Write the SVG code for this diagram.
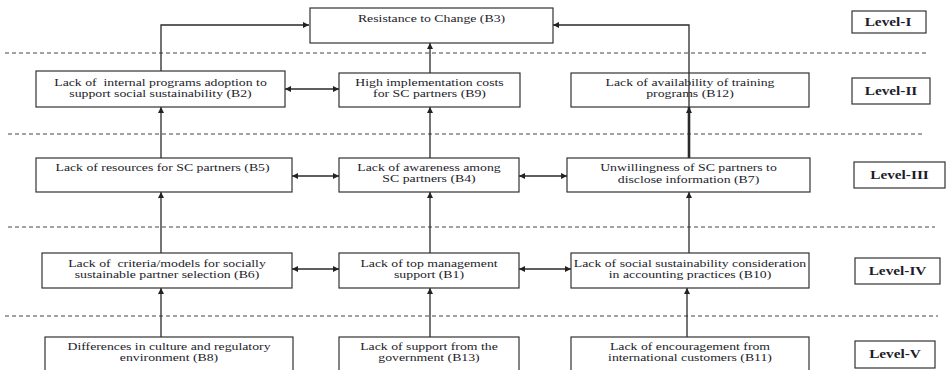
<svg xmlns="http://www.w3.org/2000/svg" width="948" height="370" viewBox="0 0 948 370">
<defs>
<style>
.bg{fill:#ffffff}
.box{fill:#ffffff;stroke:#333333;stroke-width:1.2}
.t{font-family:"Liberation Serif","Times New Roman",serif;font-size:10.6px;fill:#1c1c2a;text-anchor:middle;white-space:pre}
.lv{font-family:"Liberation Serif","Times New Roman",serif;font-size:11.5px;font-weight:bold;fill:#1c1c2a;text-anchor:middle}
.dash{stroke:#444444;stroke-width:1;stroke-dasharray:4 3;fill:none}
.c{stroke:#2a2a2a;stroke-width:1.3;fill:none}
.thick{stroke:#2a2a2a;stroke-width:2.6;fill:none}
</style>
<marker id="ah" viewBox="0 0 10 10" refX="10" refY="5" markerWidth="7" markerHeight="6" orient="auto-start-reverse" markerUnits="userSpaceOnUse">
<path d="M0,0 L10,5 L0,10 z" fill="#222222"/>
</marker>
</defs>
<rect class="bg" x="0" y="0" width="948" height="370"/>

<g id="levels-separators">
<line class="dash" x1="5" y1="53" x2="927" y2="53"/>
<line class="dash" x1="8" y1="134" x2="924" y2="134"/>
<line class="dash" x1="8" y1="227" x2="935" y2="227"/>
<line class="dash" x1="5" y1="316" x2="938" y2="316"/>
</g>

<g id="connectors">
<polyline class="c" points="161,71 161,25 309,25" marker-end="url(#ah)"/>
<line class="c" x1="430" y1="73" x2="430" y2="43" marker-end="url(#ah)"/>
<polyline class="c" points="689,107 689,25 553,25" marker-end="url(#ah)"/>
<line class="c" x1="285" y1="89" x2="339" y2="89" marker-start="url(#ah)" marker-end="url(#ah)"/>
<line class="c" x1="161" y1="158" x2="161" y2="107" marker-end="url(#ah)"/>
<line class="c" x1="430" y1="158" x2="430" y2="107" marker-end="url(#ah)"/>
<line class="thick" x1="689" y1="158" x2="689" y2="107" marker-end="url(#ah)"/>
<line class="c" x1="292" y1="176" x2="339" y2="176" marker-start="url(#ah)" marker-end="url(#ah)"/>
<line class="c" x1="519" y1="176" x2="567" y2="176" marker-start="url(#ah)" marker-end="url(#ah)"/>
<line class="c" x1="161" y1="253" x2="161" y2="192" marker-end="url(#ah)"/>
<line class="c" x1="430" y1="253" x2="430" y2="192" marker-end="url(#ah)"/>
<line class="c" x1="689" y1="253" x2="689" y2="192" marker-end="url(#ah)"/>
<line class="c" x1="292" y1="269" x2="339" y2="269" marker-start="url(#ah)" marker-end="url(#ah)"/>
<line class="c" x1="519" y1="269" x2="571" y2="269" marker-start="url(#ah)" marker-end="url(#ah)"/>
<line class="c" x1="161" y1="337" x2="161" y2="288" marker-end="url(#ah)"/>
<line class="c" x1="430" y1="337" x2="430" y2="288" marker-end="url(#ah)"/>
<line class="c" x1="687" y1="337" x2="687" y2="288" marker-end="url(#ah)"/>
</g>

<g id="B3">
<rect class="box" x="310" y="8" width="243" height="35"/>
<text class="t" transform="translate(431.5 22) scale(1.3 1)">Resistance to Change (B3)</text>
</g>

<g id="B2">
<rect class="box" x="36" y="71" width="249" height="36"/>
<text class="t" transform="translate(160.5 86) scale(1.3 1)"><tspan x="0">Lack of  internal programs adoption to</tspan><tspan x="0" dy="11">support social sustainability (B2)</tspan></text>
</g>
<g id="B9">
<rect class="box" x="339" y="73" width="181" height="34"/>
<text class="t" transform="translate(429.5 86) scale(1.3 1)"><tspan x="0">High implementation costs</tspan><tspan x="0" dy="11">for SC partners (B9)</tspan></text>
</g>
<g id="B12">
<rect class="box" x="571" y="73" width="238" height="34"/>
<text class="t" transform="translate(690 86) scale(1.3 1)"><tspan x="0">Lack of availability of training</tspan><tspan x="0" dy="11">programs (B12)</tspan></text>
</g>
<line class="c" x1="689" y1="73" x2="689" y2="107"/>

<g id="B5">
<rect class="box" x="36" y="158" width="256" height="34"/>
<text class="t" transform="translate(162.5 171) scale(1.3 1)">Lack of resources for SC partners (B5)</text>
</g>
<g id="B4">
<rect class="box" x="339" y="158" width="180" height="34"/>
<text class="t" transform="translate(429 171) scale(1.3 1)"><tspan x="0">Lack of awareness among</tspan><tspan x="0" dy="11">SC partners (B4)</tspan></text>
</g>
<g id="B7">
<rect class="box" x="567" y="158" width="243" height="34"/>
<text class="t" transform="translate(688.5 171) scale(1.3 1)"><tspan x="0">Unwillingness of SC partners to</tspan><tspan x="0" dy="12">disclose information (B7)</tspan></text>
</g>

<g id="B6">
<rect class="box" x="42" y="253" width="250" height="35"/>
<text class="t" transform="translate(167 267) scale(1.3 1)"><tspan x="0">Lack of  criteria/models for socially</tspan><tspan x="0" dy="11">sustainable partner selection (B6)</tspan></text>
</g>
<g id="B1">
<rect class="box" x="339" y="253" width="180" height="35"/>
<text class="t" transform="translate(429 267) scale(1.3 1)"><tspan x="0">Lack of top management</tspan><tspan x="0" dy="11">support (B1)</tspan></text>
</g>
<g id="B10">
<rect class="box" x="571" y="253" width="238" height="35"/>
<text class="t" transform="translate(690 267) scale(1.3 1)"><tspan x="0">Lack of social sustainability consideration</tspan><tspan x="0" dy="11">in accounting practices (B10)</tspan></text>
</g>

<g id="B8">
<rect class="box" x="45" y="337" width="248" height="40"/>
<text class="t" transform="translate(169 350) scale(1.3 1)"><tspan x="0">Differences in culture and regulatory</tspan><tspan x="0" dy="11">environment (B8)</tspan></text>
</g>
<g id="B13">
<rect class="box" x="339" y="337" width="180" height="40"/>
<text class="t" transform="translate(429 350) scale(1.3 1)"><tspan x="0">Lack of support from the</tspan><tspan x="0" dy="11">government (B13)</tspan></text>
</g>
<g id="B11">
<rect class="box" x="571" y="337" width="238" height="40"/>
<text class="t" transform="translate(690 350) scale(1.3 1)"><tspan x="0">Lack of encouragement from</tspan><tspan x="0" dy="11">international customers (B11)</tspan></text>
</g>

<g id="level-I">
<rect class="box" x="852" y="11" width="74" height="22"/>
<text class="lv" transform="translate(888 26) scale(1.33 1)">Level-I</text>
</g>
<g id="level-II">
<rect class="box" x="852" y="78" width="78" height="26"/>
<text class="lv" transform="translate(891 95) scale(1.33 1)">Level-II</text>
</g>
<g id="level-III">
<rect class="box" x="854" y="162" width="91" height="26"/>
<text class="lv" transform="translate(899.5 179) scale(1.33 1)">Level-III</text>
</g>
<g id="level-IV">
<rect class="box" x="855" y="258" width="85" height="26"/>
<text class="lv" transform="translate(897.5 275) scale(1.33 1)">Level-IV</text>
</g>
<g id="level-V">
<rect class="box" x="855" y="341" width="80" height="27"/>
<text class="lv" transform="translate(895 358) scale(1.33 1)">Level-V</text>
</g>
</svg>
